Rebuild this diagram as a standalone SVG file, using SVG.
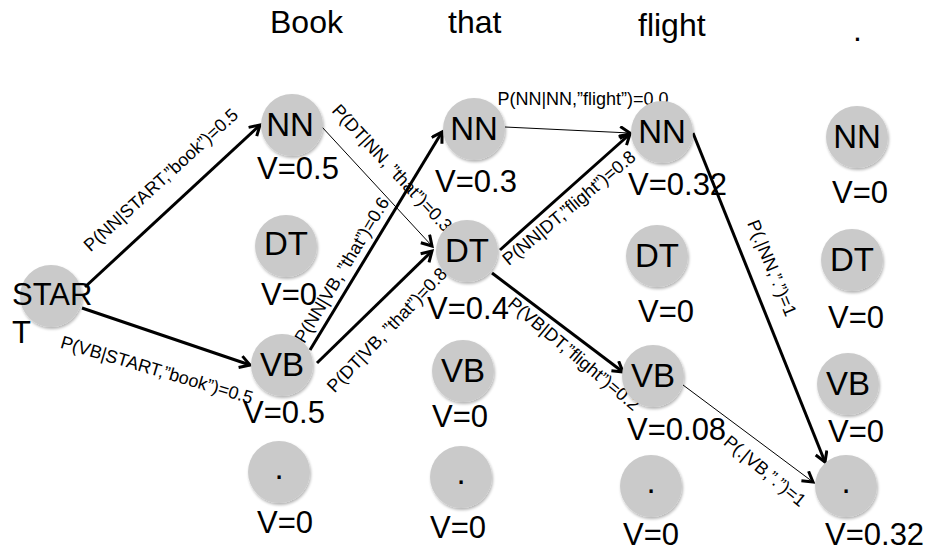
<svg xmlns="http://www.w3.org/2000/svg" width="930" height="552" viewBox="0 0 930 552">
  <style>
    text { font-family: "Liberation Sans", Arial, Helvetica, sans-serif; fill: #000; }
    .word { font-size: 32px; }
    .node circle { fill: #cacaca; filter: url(#shadow); }
    .tag { font-size: 33px; text-anchor: middle; }
    .val { font-size: 31px; }
    .edge { stroke: #000; fill: none; marker-end: url(#arrow); }
    .thick { stroke-width: 3; }
    .thin { stroke-width: 1; }
    .prob { font-size: 18px; text-anchor: middle; dominant-baseline: central; }
  </style>
  <defs>
    <filter id="shadow" x="-20%" y="-20%" width="150%" height="150%">
      <feGaussianBlur in="SourceAlpha" stdDeviation="1.5"/>
      <feOffset dx="1" dy="2" result="b"/>
      <feComponentTransfer><feFuncA type="linear" slope="0.3"/></feComponentTransfer>
      <feMerge><feMergeNode/><feMergeNode in="SourceGraphic"/></feMerge>
    </filter>
    <marker id="arrow" markerUnits="userSpaceOnUse" markerWidth="16" markerHeight="16" refX="12" refY="7" orient="auto">
      <path d="M2,1 L12,7 L2,13" fill="none" stroke="#000" stroke-width="3"/>
    </marker>
  </defs>

  <!-- words of the sentence -->
  <g id="words">
    <text class="word" x="270" y="33">Book</text>
    <text class="word" x="448" y="33">that</text>
    <text class="word" x="638" y="36">flight</text>
    <text class="word" x="853" y="41">.</text>
  </g>

  <!-- transitions -->
  <g id="connectors">
    <line class="edge thick" x1="85" y1="287" x2="260" y2="125"/>
    <line class="edge thick" x1="82" y1="308" x2="250" y2="365"/>
    <line class="edge thin" x1="322" y1="127" x2="432" y2="246"/>
    <line class="edge thick" x1="310" y1="350" x2="442" y2="132"/>
    <line class="edge thick" x1="317" y1="363" x2="432" y2="251"/>
    <line class="edge thin" x1="505" y1="127" x2="630" y2="133"/>
    <line class="edge thick" x1="500" y1="250" x2="630" y2="134"/>
    <line class="edge thick" x1="492" y1="273" x2="623" y2="372"/>
    <line class="edge thick" x1="693" y1="133" x2="825" y2="462"/>
    <line class="edge thin" x1="683" y1="385" x2="813" y2="482"/>

    <text class="prob" transform="translate(161,180) rotate(-42.4)">P(NN|START,”book”)=0.5</text>
    <text class="prob" transform="translate(157,370) rotate(16.5)">P(VB|START,”book”)=0.5</text>
    <text class="prob" transform="translate(392,168) rotate(47)">P(DT|NN, ”that”)=0.3</text>
    <text class="prob" transform="translate(342,270) rotate(-59)">P(NN|VB, ”that”)=0.6</text>
    <text class="prob" transform="translate(387,330) rotate(-46.3)">P(DT|VB, ”that”)=0.8</text>
    <text class="prob" style="dominant-baseline:auto" x="583" y="105">P(NN|NN,”flight”)=0.0</text>
    <text class="prob" transform="translate(569,208) rotate(-40)">P(NN|DT,”flight”)=0.8</text>
    <text class="prob" transform="translate(574,354) rotate(40)">P(VB|DT,”flight”)=0.2</text>
    <text class="prob" transform="translate(772,268) rotate(67.6)">P(.|NN,”.”)=1</text>
    <text class="prob" transform="translate(765,471) rotate(39.6)">P(.|VB,”.”)=1</text>
  </g>

  <!-- start state -->
  <g id="start" class="node">
    <circle cx="51" cy="296" r="31"/>
    <text class="val" x="12" y="305">STAR</text>
    <text class="val" x="12" y="343">T</text>
  </g>

  <!-- column: Book -->
  <g id="book-nn" class="node">
    <circle cx="292" cy="125" r="31"/>
    <text class="tag" x="290" y="136">NN</text>
    <text class="val" x="257" y="179">V=0.5</text>
  </g>
  <g id="book-dt" class="node">
    <circle cx="286" cy="246" r="31"/>
    <text class="tag" x="286" y="255">DT</text>
    <text class="val" x="261" y="305">V=0</text>
  </g>
  <g id="book-vb" class="node">
    <circle cx="282" cy="365" r="31"/>
    <text class="tag" x="282" y="376">VB</text>
    <text class="val" x="243" y="423">V=0.5</text>
  </g>
  <g id="book-end" class="node">
    <circle cx="279" cy="472" r="31"/>
    <text class="tag" x="279" y="479">.</text>
    <text class="val" x="257" y="533">V=0</text>
  </g>

  <!-- column: that -->
  <g id="that-nn" class="node">
    <circle cx="474" cy="129" r="31"/>
    <text class="tag" x="474" y="140">NN</text>
    <text class="val" x="435" y="192">V=0.3</text>
  </g>
  <g id="that-dt" class="node">
    <circle cx="467" cy="251" r="31"/>
    <text class="tag" x="467" y="262">DT</text>
    <text class="val" x="427" y="319">V=0.4</text>
  </g>
  <g id="that-vb" class="node">
    <circle cx="463" cy="371" r="31"/>
    <text class="tag" x="463" y="382">VB</text>
    <text class="val" x="432" y="427">V=0</text>
  </g>
  <g id="that-end" class="node">
    <circle cx="461" cy="477" r="31"/>
    <text class="tag" x="461" y="484">.</text>
    <text class="val" x="430" y="538">V=0</text>
  </g>

  <!-- column: flight -->
  <g id="flight-nn" class="node">
    <circle cx="662" cy="132" r="31"/>
    <text class="tag" x="662" y="143">NN</text>
    <text class="val" x="628" y="195">V=0.32</text>
  </g>
  <g id="flight-dt" class="node">
    <circle cx="657" cy="256" r="31"/>
    <text class="tag" x="657" y="267">DT</text>
    <text class="val" x="638" y="322">V=0</text>
  </g>
  <g id="flight-vb" class="node">
    <circle cx="653" cy="376" r="31"/>
    <text class="tag" x="653" y="387">VB</text>
    <text class="val" x="627" y="440">V=0.08</text>
  </g>
  <g id="flight-end" class="node">
    <circle cx="651" cy="486" r="31"/>
    <text class="tag" x="651" y="493">.</text>
    <text class="val" x="623" y="545">V=0</text>
  </g>

  <!-- column: . -->
  <g id="stop-nn" class="node">
    <circle cx="857" cy="137" r="31"/>
    <text class="tag" x="857" y="148">NN</text>
    <text class="val" x="832" y="203">V=0</text>
  </g>
  <g id="stop-dt" class="node">
    <circle cx="852" cy="260" r="31"/>
    <text class="tag" x="852" y="271">DT</text>
    <text class="val" x="828" y="328">V=0</text>
  </g>
  <g id="stop-vb" class="node">
    <circle cx="848" cy="384" r="31"/>
    <text class="tag" x="848" y="395">VB</text>
    <text class="val" x="828" y="442">V=0</text>
  </g>
  <g id="stop-end" class="node">
    <circle cx="846" cy="486" r="31"/>
    <text class="tag" x="846" y="493">.</text>
    <text class="val" x="825" y="545">V=0.32</text>
  </g>
</svg>
